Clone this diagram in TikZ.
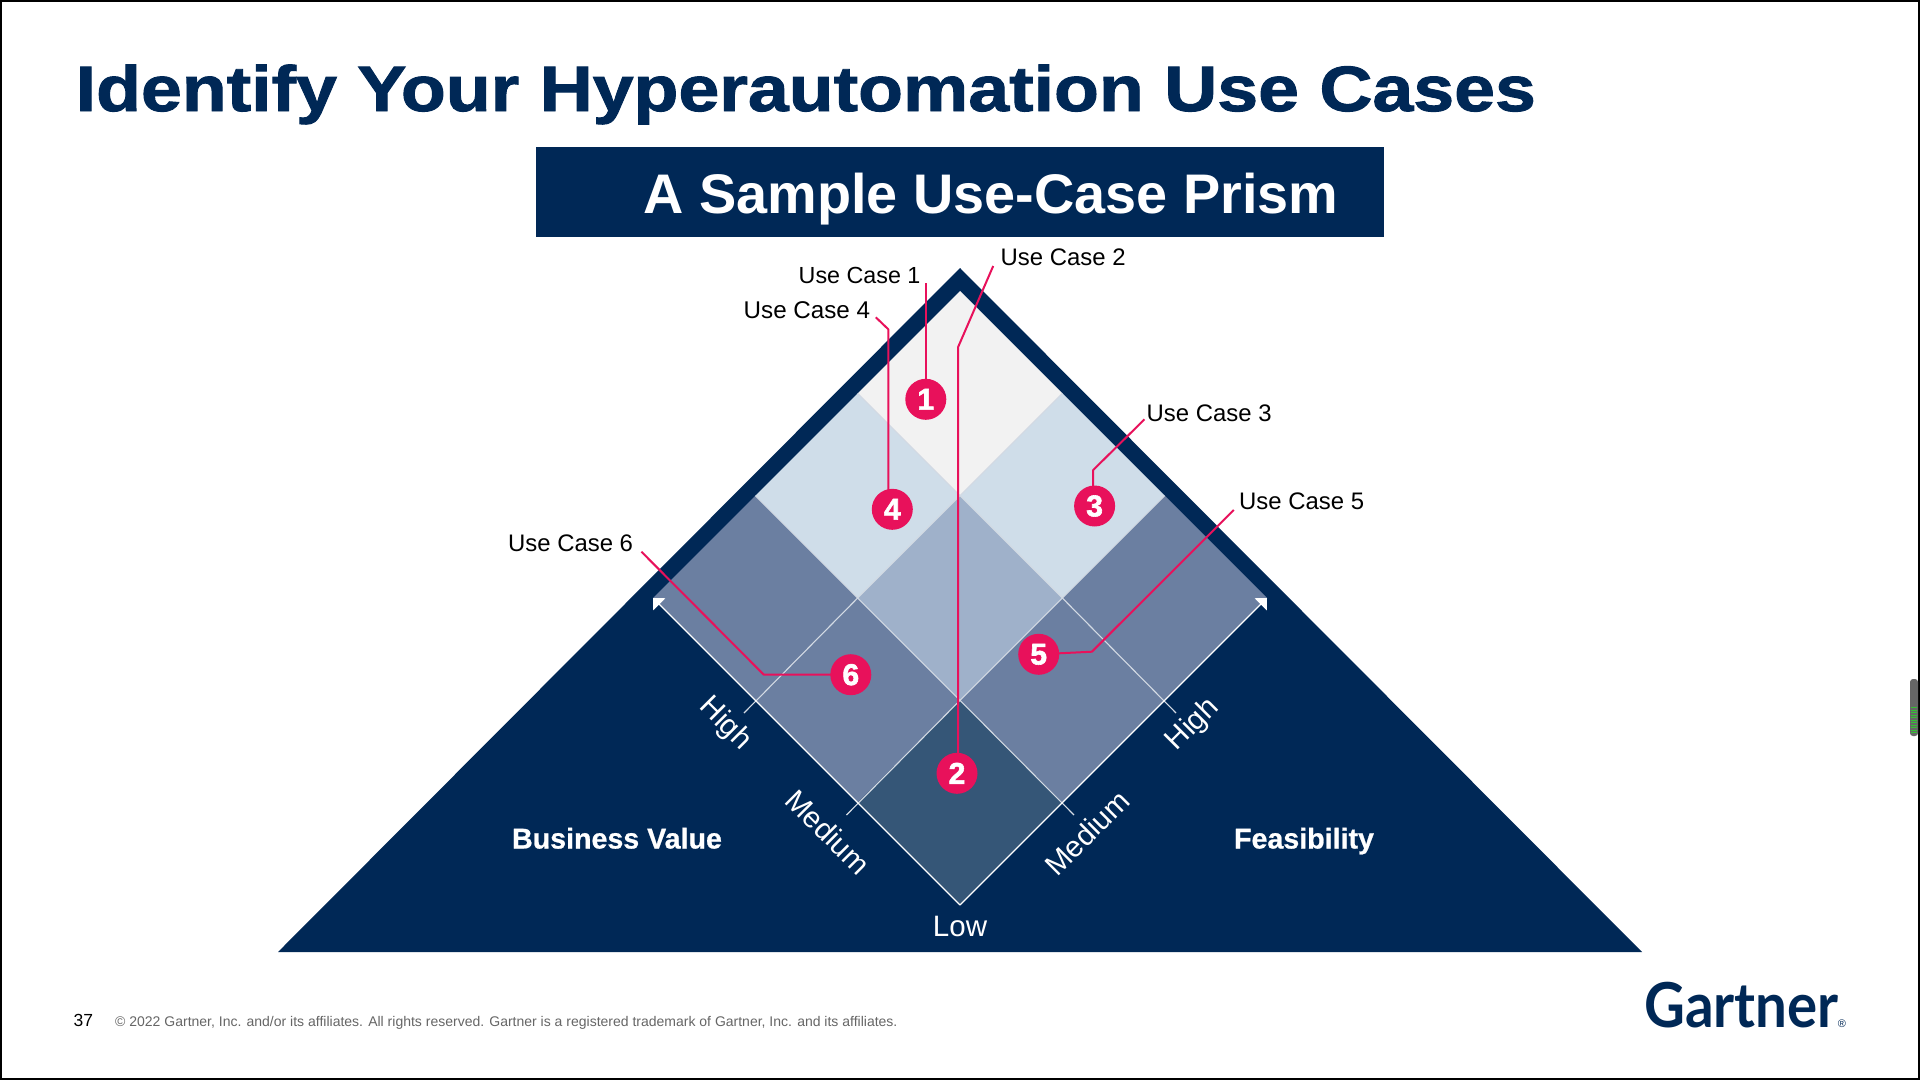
\documentclass[tikz,border=0pt]{standalone}
\usepackage{fontspec}
\setmainfont{Liberation Sans}
\newfontfamily\logofont{Lato}[BoldFeatures={FakeStretch=0.91}]
\newfontfamily\titlefont{Liberation Sans}[BoldFeatures={FakeStretch=1.148,FakeBold=1.5}]
\newfontfamily\dotfont{Liberation Sans}[BoldFeatures={FakeBold=2}]
\newfontfamily\groupfont{Liberation Sans}[BoldFeatures={FakeBold=0.8}]
\usetikzlibrary{arrows.meta}
\definecolor{navy}{HTML}{002856}
\definecolor{hot}{HTML}{E8115B}
\definecolor{cellA}{HTML}{F2F2F2}
\definecolor{cellB}{HTML}{CFDDE9}
\definecolor{cellC}{HTML}{9FB1CA}
\definecolor{cellD}{HTML}{6B7FA1}
\definecolor{cellE}{HTML}{355677}
\definecolor{gridc}{HTML}{D4DBE4}
\pgfdeclarelayer{top}
\pgfsetlayers{main,top}
\newcommand{\fs}[1]{\fontsize{#1}{#1}\selectfont}
\tikzset{
  x=1pt,y=-1pt,
  callout/.style={draw=hot,line width=2pt,line join=round},
  dot/.style={circle,fill=hot,minimum size=41pt,inner sep=0pt,text=white,font=\fs{30}\dotfont\bfseries},
  uclabel/.style={inner sep=0pt,text=black,font=\fs{23.9},anchor=base west},
  axislabel/.style={inner sep=0pt,text=white,font=\fs{29.5}},
  grouplabel/.style={inner sep=0pt,text=white,font=\fs{28.6}\groupfont\bfseries,anchor=base},
  gridline/.style={draw=gridc,line width=1.1pt},
  axisarrow/.style={draw=white,line width=1.2pt,-{Triangle[length=9pt,width=17pt]}},
}
\begin{document}
\begin{tikzpicture}
\useasboundingbox (0,0) rectangle (1920,1080);
\fill[white] (0,0) rectangle (1920,1080);
\draw[black,line width=2pt] (1,1) rectangle (1919,1079);

% title and banner
\node[inner sep=0pt,anchor=base west,text=navy,font=\fs{64}\titlefont\bfseries] (title) at (75.5,111) {Identify Your Hyperautomation Use Cases};
\fill[navy] (536,147) rectangle (1384,237);
\node[inner sep=0pt,text=white,font=\fs{55.8}\bfseries] (banner) at (991,199.5) {A Sample Use-Case Prism};

% prism
\fill[navy] (960,268) -- (1642,952) -- (278,952) -- cycle;
\def\st{102.33}
\foreach \i/\j/\c in {0/0/cellA,1/0/cellB,0/1/cellB,1/1/cellC,2/0/cellD,0/2/cellD,2/1/cellD,1/2/cellD,2/2/cellE}{
  \fill[\c] ({960+(\i-\j)*\st},{291+(\i+\j)*\st})
    -- ++(\st,\st) -- ++(-\st,\st) -- ++(-\st,-\st) -- cycle;
}
% grid lines
\coordinate (L) at (653,598);
\coordinate (R) at (1267,598);
\coordinate (B) at (960,905);
\draw[gridline] (857.67,393.33) -- (1062.33,598) -- (1176,713);
\draw[gridline] (755.33,495.67) -- (960,700.33) -- (1074,815);
\draw[gridline] (1062.33,393.33) -- (857.67,598) -- (744,713);
\draw[gridline] (1164.67,495.67) -- (960,700.33) -- (846.5,815);
\draw[axisarrow] (B) -- (L);
\draw[axisarrow] (B) -- (R);

% axis labels
\node[axislabel,rotate=-45] (h1) at (725,724) {High};
\node[axislabel,rotate=-45] (m1) at (828,832) {Medium};
\node[axislabel,rotate=45] (h2) at (1193,725) {High};
\node[axislabel,rotate=45] (m2) at (1087,833) {Medium};
\node[axislabel] (low) at (960,926) {Low};
\node[grouplabel] (bv) at (617,848.5) {Business Value};
\node[grouplabel] (fe) at (1304,848.5) {Feasibility};

% use-case labels
\node[uclabel,font=\fs{23.3}] (u1) at (798.5,283) {Use Case 1};
\node[uclabel,font=\fs{24.2}] (u4) at (743.5,318) {Use Case 4};
\node[uclabel] (u2) at (1000.5,265) {Use Case 2};
\node[uclabel] (u3) at (1146.5,421) {Use Case 3};
\node[uclabel] (u5) at (1239,509.5) {Use Case 5};
\node[uclabel] (u6) at (508,551) {Use Case 6};

% dots
\begin{pgfonlayer}{top}
\node[dot] (c1) at (925.8,399.3) {1};
\node[dot] (c2) at (957,773.3) {2};
\node[dot] (c3) at (1094.6,506) {3};
\node[dot] (c4) at (892.3,509.3) {4};
\node[dot] (c5) at (1038.7,654.3) {5};
\node[dot] (c6) at (850.8,674.7) {6};
\end{pgfonlayer}

% connectors
\coordinate (e1) at (925.8,283);
\coordinate (e2) at (993.2,266);
\coordinate (b2) at (958,347.3);
\coordinate (e3) at (1144.5,419.3);
\coordinate (b3) at (1093.2,470);
\coordinate (e4) at (875.8,317.3);
\coordinate (b4) at (888.3,329.3);
\coordinate (e5) at (1233.8,510);
\coordinate (b5) at (1091.9,651.7);
\coordinate (e6) at (641.4,551.7);
\coordinate (b6) at (763.8,674.7);
\draw[callout] (e1) -- (c1.center);
\draw[callout] (e2) -- (b2) -- (b2 |- c2);
\draw[callout] (e3) -- (b3) -- (b3 |- c3);
\draw[callout] (e4) -- (b4) -- (b4 |- c4);
\draw[callout] (e5) -- (b5) -- (c5.center);
\draw[callout] (e6) -- (b6) -- (c6.center);

% footer
\node[inner sep=0pt,anchor=base west,text=black,font=\fs{17.5}] (page) at (73.5,1026) {37};
\node[inner sep=0pt,anchor=base west,text=black!60,font=\fs{14}] (foot) at (115,1026) {© 2022 Gartner, Inc. and/or its affiliates. All rights reserved. Gartner is a registered trademark of Gartner, Inc. and its affiliates.};
\node[inner sep=0pt,anchor=base west,text=navy,font=\fs{62}\logofont\bfseries] (logo) at (1644,1027) {Gartner};
\node[inner sep=0pt,text=navy,font=\fs{11}] (reg) at (1842,1024) {®};

% scroll marker
\fill[black!60,rounded corners=3pt] (1910,679) rectangle (1918,736);
\foreach \y in {707,709.5,...,732}{\fill[green!70!black!80] (1911,\y) rectangle (1917,\y+1.2);}
\end{tikzpicture}
\end{document}
